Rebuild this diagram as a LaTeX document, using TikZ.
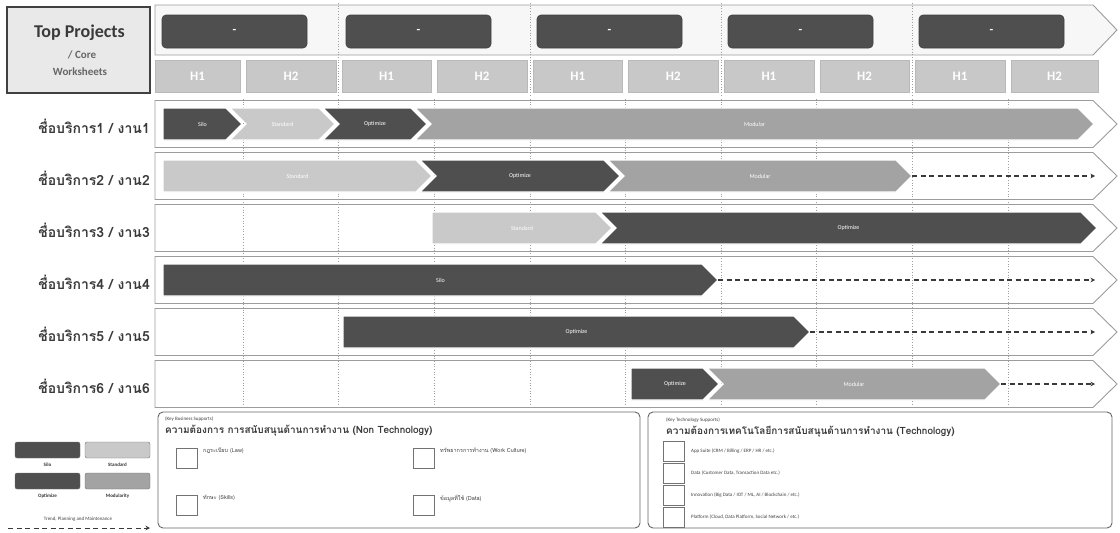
\documentclass[tikz,border=0pt]{standalone}
\usepackage{fontspec}
\setmainfont{Carlito}
\newfontfamily\thaifont[Script=Thai]{Loma}
\usetikzlibrary{arrows.meta}

\definecolor{barDark}{HTML}{4F4F4F}
\definecolor{barLight}{HTML}{C9C9C9}
\definecolor{barMid}{HTML}{A3A3A3}
\definecolor{cellGray}{HTML}{C8C8C8}
\definecolor{frameGray}{HTML}{9C9C9C}
\definecolor{inkDark}{HTML}{3A3A3A}
\definecolor{panelGray}{HTML}{E9E9E9}

% one phase of a timeline row: straight or notched left end, pointed right end
% #1 name, #2 left x, #3 tip x, #4 centre y, #5 notch depth, #6 fill, #7 caption
\newcommand\phasebar[7]{%
  \path[fill=#6, draw=white, line width=1.4pt, line join=miter]
    (#2,#4-16) -- (#3-16,#4-16) -- (#3,#4) -- (#3-16,#4+16) -- (#2,#4+16) -- (#2+#5,#4) -- cycle;
  \node[barlabel] (#1) at ({(#2+#3)/2},#4) {#7};
  \coordinate (#1-tip) at (#3,#4);
}

% outlined row band ending in a chevron
\newcommand\rowband[2]{%
  \path[rowframe] (155,#2-23.5) -- (1093,#2-23.5) -- (1117,#2) -- (1093,#2+23.5) -- (155,#2+23.5) -- cycle;
  \coordinate (#1) at (155,#2);
}

\begin{document}
\begin{tikzpicture}[x=1pt,y=-1pt,
  rowframe/.style={draw=frameGray, line width=0.9pt, fill=white, line join=miter},
  griddot/.style={draw=gray!75, dotted, line width=0.7pt},
  barlabel/.style={font=\fontsize{6}{7}\selectfont, text=white, inner sep=0pt},
  hcell/.style={fill=cellGray, draw=gray!55, line width=0.3pt, minimum height=32pt, inner sep=0pt,
    font=\bfseries\fontsize{13}{14}\selectfont, text=white},
  yearbar/.style={fill=barDark, draw=black!75, line width=0.6pt, rounded corners=4pt,
    minimum height=33pt, minimum width=145pt, inner sep=0pt, font=\bfseries\fontsize{12}{12}\selectfont, text=white},
  rowlabel/.style={anchor=east, inner sep=0pt, font=\thaifont\bfseries\fontsize{14}{16}\selectfont, text=inkDark},
  futurearrow/.style={draw=inkDark, line width=1.1pt, dash pattern=on 5pt off 3.5pt, -{Stealth[length=4.5pt,width=4.5pt]}},
  swatch/.style={draw=black!55, line width=0.4pt, rounded corners=2pt, minimum width=65pt, minimum height=16pt, inner sep=0pt},
  tinytext/.style={font=\fontsize{5}{6}\selectfont, text=black!75, inner sep=0pt},
  legendtext/.style={font=\bfseries\fontsize{5}{6}\selectfont, text=black!80, inner sep=0pt},
  thaitiny/.style={font=\thaifont\fontsize{5.5}{6}\selectfont, text=black!75, inner sep=0pt, anchor=west},
  thaihead/.style={font=\thaifont\bfseries\fontsize{10}{11}\selectfont, text=inkDark, inner sep=0pt, anchor=west},
  supportbox/.style={draw=black!60, line width=0.9pt, rounded corners=5pt},
  checkbox/.style={draw=black!55, fill=white, line width=0.7pt, minimum width=21pt, minimum height=20pt, inner sep=0pt}
]
\useasboundingbox (0,0) rectangle (1120,533);

% ---------- title panel ----------
\node[draw=black!75, fill=panelGray, line width=1.3pt, minimum width=143pt, minimum height=86pt, inner sep=0pt]
  (title) at (78.5,50) {};
\node[font=\bfseries\fontsize{18}{20}\selectfont, text=inkDark, inner sep=0pt] (titleA) at (79.5,33) {Top Projects};
\node[font=\bfseries\fontsize{11}{12}\selectfont, text=black!60, inner sep=0pt] (titleB) at (82,55) {/ Core};
\node[font=\bfseries\fontsize{11}{12}\selectfont, text=black!60, inner sep=0pt] (titleC) at (80,72) {Worksheets};

% ---------- period header ----------
\path[fill=black!3, draw=frameGray, line width=0.9pt, line join=miter]
  (155,5) -- (1093,5) -- (1117,30) -- (1093,55) -- (155,55) -- cycle;
\foreach \gx in {338.7,529.9,721.1,912.3}
  \draw[griddot] (\gx,3) -- (\gx,96);
\foreach \n/\cx in {ya/234.5, yb/418.5, yc/609.5, yd/800.5, ye/991.5}
  \node[yearbar] (\n) at (\cx,31.5) {-};

\foreach \n/\cx/\w/\t in {h1a/197.5/85/H1, h2a/291/90/H2, h1b/386.5/89/H1, h2b/482/90/H2,
    h1c/577.8/89.5/H1, h2c/673.3/89.5/H2, h1d/768.9/89.7/H1, h2d/864.5/89.6/H2,
    h1e/960/89.7/H1, h2e/1054.5/87/H2}
  \node[hcell, minimum width=\w pt] (\n) at (\cx,76) {\t};

% ---------- row bands and grid ----------
\rowband{row1}{124}
\rowband{row2}{176}
\rowband{row3}{228}
\rowband{row4}{280}
\rowband{row5}{332}
\rowband{row6}{384}
\foreach \k in {1,...,9}
  \draw[griddot] ({147.5+95.6*\k},99) -- ({147.5+95.6*\k},409);

% ---------- row captions ----------
\node[rowlabel] (lab1) at (150,126) {ชื่อบริการ1 / งาน1};
\node[rowlabel] (lab2) at (150,178) {ชื่อบริการ2 / งาน2};
\node[rowlabel] (lab3) at (150,230) {ชื่อบริการ3 / งาน3};
\node[rowlabel] (lab4) at (150,282) {ชื่อบริการ4 / งาน4};
\node[rowlabel] (lab5) at (150,334) {ชื่อบริการ5 / งาน5};
\node[rowlabel] (lab6) at (150,386) {ชื่อบริการ6 / งาน6};

% ---------- phases ----------
% row 1
\phasebar{r1a}{163}{242}{124}{0}{barDark}{Silo}
\phasebar{r1b}{230}{335}{124}{16}{barLight}{Standard}
\phasebar{r1c}{323}{427}{124}{16}{barDark}{Optimize}
\phasebar{r1d}{415}{1094}{124}{16}{barMid}{Modular}
% row 2
\phasebar{r2a}{163}{432}{176}{0}{barLight}{Standard}
\phasebar{r2b}{420}{620}{176}{16}{barDark}{Optimize}
\phasebar{r2c}{608}{912}{176}{16}{barMid}{Modular}
\coordinate (r2end) at (1095,176);
\draw[futurearrow] (r2c-tip) -- (r2end);
% row 3
\phasebar{r3a}{432}{612}{228}{0}{barLight}{Standard}
\phasebar{r3b}{600}{1097}{228}{16}{barDark}{Optimize}
% row 4
\phasebar{r4a}{163}{718}{280}{0}{barDark}{Silo}
\coordinate (r4end) at (1095,280);
\draw[futurearrow] (r4a-tip) -- (r4end);
% row 5
\phasebar{r5a}{343}{810}{332}{0}{barDark}{Optimize}
\coordinate (r5end) at (1095,332);
\draw[futurearrow] (r5a-tip) -- (r5end);
% row 6
\phasebar{r6a}{631}{719}{384}{0}{barDark}{Optimize}
\phasebar{r6b}{707}{1001}{384}{16}{barMid}{Modular}
\coordinate (r6end) at (1095,384);
\draw[futurearrow] (r6b-tip) -- (r6end);

% ---------- legend ----------
\node[swatch, fill=barDark] (lgSilo) at (47.5,450) {};
\node[swatch, fill=barLight] (lgStd) at (117.5,450) {};
\node[swatch, fill=barDark] (lgOpt) at (47.5,481) {};
\node[swatch, fill=barMid] (lgMod) at (117.5,481) {};
\node[legendtext] (lgSiloT) at (47.5,465) {Silo};
\node[legendtext] (lgStdT) at (117.5,465) {Standard};
\node[legendtext] (lgOptT) at (47.5,496) {Optimize};
\node[legendtext] (lgModT) at (117.5,496) {Modularity};
\node[tinytext] (lgFut) at (78,519) {Trend, Planning and Maintenance};
\coordinate (lgArrA) at (8,528);
\coordinate (lgArrB) at (150,528);
\draw[futurearrow, line width=0.9pt] (lgArrA) -- (lgArrB);

% ---------- business support panel ----------
\draw[supportbox] (158,412) rectangle (640,528);
\node[tinytext, anchor=west] (bsSmall) at (165,419) {(Key Business Supports)};
\node[thaihead] (bsHead) at (165,431) {ความต้องการ การสนับสนุนด้านการทำงาน (Non Technology)};
\node[checkbox] (bs1) at (187,458) {};
\node[checkbox] (bs2) at (187,505) {};
\node[checkbox] (bs3) at (424,458) {};
\node[checkbox] (bs4) at (424,505) {};
\node[thaitiny] (bs1T) at (203,451) {กฎระเบียบ (Law)};
\node[thaitiny] (bs2T) at (203,498) {ทักษะ (Skills)};
\node[thaitiny] (bs3T) at (440,451) {ทรัพยากรการทำงาน (Work Culture)};
\node[thaitiny] (bs4T) at (440,498) {ข้อมูลที่ใช้ (Data)};

% ---------- technology support panel ----------
\draw[supportbox] (648,412) rectangle (1112,528);
\node[tinytext, anchor=west] (tsSmall) at (666,420) {(Key Technology Supports)};
\node[thaihead] (tsHead) at (666,432) {ความต้องการเทคโนโลยีการสนับสนุนด้านการทำงาน (Technology)};
\node[checkbox] (ts1) at (674,451) {};
\node[checkbox] (ts2) at (674,473) {};
\node[checkbox] (ts3) at (674,495) {};
\node[checkbox] (ts4) at (674,517) {};
\node[tinytext, anchor=west] (ts1T) at (691,451) {App Suite (CRM / Billing / ERP / HR / etc.)};
\node[tinytext, anchor=west] (ts2T) at (691,473) {Data (Customer Data, Transaction Data etc.)};
\node[tinytext, anchor=west] (ts3T) at (691,495) {Innovation (Big Data / IOT / ML, AI / Blockchain / etc.)};
\node[tinytext, anchor=west] (ts4T) at (691,517) {Platform (Cloud, Data Platform, Social Network / etc.)};
\end{tikzpicture}
\end{document}
